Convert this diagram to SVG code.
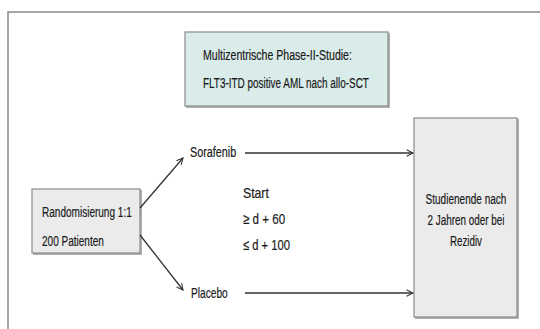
<svg xmlns="http://www.w3.org/2000/svg" width="540" height="329" viewBox="0 0 540 329">
  <defs>
    <marker id="chev" viewBox="0 0 10 10" refX="9" refY="5" markerWidth="8" markerHeight="8" markerUnits="userSpaceOnUse" orient="auto">
      <path d="M1,1 L9,5 L1,9" fill="none" stroke="#333" stroke-width="1.3"/>
    </marker>
    <style>
      text { font-family: "Liberation Sans", Arial, sans-serif; font-size: 15px; fill: #1a1a1a; stroke: #1a1a1a; stroke-width: 0.2; }
      .box { stroke: #8a8a8a; stroke-width: 1.2; }
      .shadow { fill: none; stroke: #b0b0b0; stroke-width: 2; }
      .conn { stroke: #333; stroke-width: 1.3; fill: none; marker-end: url(#chev); }
    </style>
  </defs>

  <rect width="540" height="329" fill="#fff"/>

  <!-- open frame: top and left edges -->
  <path d="M8,329 L8,12 L540,12" fill="none" stroke="#8a8a8a" stroke-width="1.5"/>

  <!-- labels use a condensed look: horizontal scale 0.68 -->
  <g id="study">
    <path class="shadow" d="M186,107 L389,107 L389,33"/>
    <rect class="box" x="185" y="32" width="203" height="74" fill="#d9ecea"/>
    <text transform="translate(203,60) scale(0.68,1)" textLength="219" lengthAdjust="spacingAndGlyphs">Multizentrische Phase-II-Studie:</text>
    <text transform="translate(203,88) scale(0.68,1)" textLength="244" lengthAdjust="spacingAndGlyphs">FLT3-ITD positive AML nach allo-SCT</text>
  </g>

  <g id="randomisierung">
    <path class="shadow" d="M33,254 L141,254 L141,190"/>
    <rect class="box" x="32" y="189" width="108" height="64" fill="#ebebeb"/>
    <text transform="translate(42,217) scale(0.68,1)" textLength="132" lengthAdjust="spacingAndGlyphs">Randomisierung 1:1</text>
    <text transform="translate(42,246) scale(0.68,1)" textLength="91" lengthAdjust="spacingAndGlyphs">200 Patienten</text>
  </g>

  <g id="sorafenib">
    <text transform="translate(190,157) scale(0.68,1)" textLength="68" lengthAdjust="spacingAndGlyphs">Sorafenib</text>
  </g>

  <g id="placebo">
    <text transform="translate(191,298) scale(0.68,1)" textLength="54" lengthAdjust="spacingAndGlyphs">Placebo</text>
  </g>

  <g id="start">
    <text transform="translate(243,198) scale(0.68,1)" textLength="38" lengthAdjust="spacingAndGlyphs">Start</text>
    <text transform="translate(243,224) scale(0.68,1)" textLength="62" lengthAdjust="spacingAndGlyphs">≥ d + 60</text>
    <text transform="translate(243,250) scale(0.68,1)" textLength="69" lengthAdjust="spacingAndGlyphs">≤ d + 100</text>
  </g>

  <g id="studienende">
    <path class="shadow" d="M415,318 L518,318 L518,119"/>
    <rect class="box" x="414" y="118" width="103" height="199" fill="#ebebeb"/>
    <text transform="translate(466,204) scale(0.68,1)" text-anchor="middle" textLength="119" lengthAdjust="spacingAndGlyphs">Studienende nach</text>
    <text transform="translate(466,225) scale(0.68,1)" text-anchor="middle" textLength="113" lengthAdjust="spacingAndGlyphs">2 Jahren oder bei</text>
    <text transform="translate(466,246) scale(0.68,1)" text-anchor="middle" textLength="47" lengthAdjust="spacingAndGlyphs">Rezidiv</text>
  </g>

  <g id="connectors">
    <path class="conn" d="M140,208 L183,158"/>
    <path class="conn" d="M140,235 L183,290"/>
    <path class="conn" d="M245,153 L413,153"/>
    <path class="conn" d="M245,293 L413,293"/>
  </g>
</svg>
